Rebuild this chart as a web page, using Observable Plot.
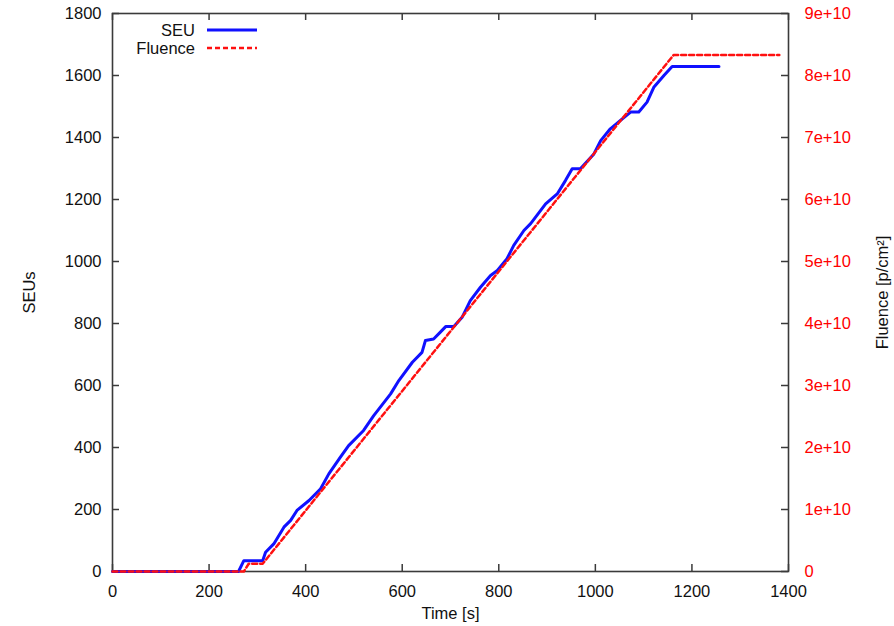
<!DOCTYPE html>
<html><head><meta charset="utf-8">
<script src="https://cdn.jsdelivr.net/npm/d3@7"></script>
<script src="https://cdn.jsdelivr.net/npm/@observablehq/plot@0.6"></script>
<style>
body{margin:0;background:#fff;}
#wrap{position:relative;width:894px;height:626px;}
#legend{position:absolute;left:0;top:0;}
svg{font-family:"Liberation Sans",Arial,sans-serif;}
</style>
</head><body><div id="wrap"></div>
<script>
// SEU counts vs time [s]
const seuTime  = [0, 261, 272, 311, 317, 334, 355, 369, 382, 407, 431, 448, 472, 489, 520, 541, 576, 593, 621, 641, 648, 665, 679, 690, 707, 724, 741, 762, 783, 797, 817, 831, 852, 866, 897, 921, 938, 952, 969, 997, 1011, 1031, 1052, 1073, 1090, 1107, 1121, 1142, 1159, 1256];
const seuCount = [0, 0, 35, 35, 62, 89, 143, 165, 197, 229, 267, 315, 369, 406, 455, 503, 573, 616, 675, 707, 745, 750, 772, 790, 790, 820, 874, 917, 955, 971, 1009, 1052, 1100, 1122, 1186, 1218, 1261, 1299, 1299, 1347, 1390, 1428, 1455, 1482, 1482, 1514, 1562, 1600, 1629, 1629];
// Fluence [p/cm^2] vs time [s]
const fluTime  = [0, 272, 282, 311, 1162, 1381];
const fluValue = [0, 0, 1.25e9, 1.25e9, 8.33e10, 8.33e10];

const xTicks = [0, 200, 400, 600, 800, 1000, 1200, 1400];
const yTicks = [0, 200, 400, 600, 800, 1000, 1200, 1400, 1600, 1800];
const fluTicks = [0, 1e10, 2e10, 3e10, 4e10, 5e10, 6e10, 7e10, 8e10, 9e10];
const fluTickLabels = ["0", "1e+10", "2e+10", "3e+10", "4e+10", "5e+10", "6e+10", "7e+10", "8e+10", "9e+10"];
const legendLabels = ["SEU", "Fluence"];

const FLU_PER_Y = 9e10 / 1800; // right axis maps onto left axis range
const seu = seuTime.map((t, i) => ({t, v: seuCount[i]}));
const flu = fluTime.map((t, i) => ({t, f: fluValue[i]}));
const ink = "#3a3a3a";
const txt = "#111";
const FS = 16.5;

const plot = Plot.plot({
  width: 894, height: 626,
  marginLeft: 112, marginRight: 106, marginTop: 13, marginBottom: 55,
  style: {fontFamily: '"Liberation Sans", Arial, sans-serif', fontSize: FS + "px", background: "#fff", color: txt},
  x: {domain: [0, 1400]},
  y: {domain: [0, 1800]},
  marks: [
    Plot.axisX(xTicks, {anchor: "bottom", tickSize: 0, tickPadding: 14, fontSize: FS, label: null, fill: txt, tickFormat: d => String(d)}),
    Plot.axisY(yTicks, {anchor: "left", tickSize: 0, tickPadding: 11, fontSize: FS, label: null, fill: txt, tickFormat: d => String(d)}),
    Plot.axisY(fluTicks.map(f => f / FLU_PER_Y), {
      anchor: "right", tickSize: 0, tickPadding: 16, fontSize: FS, label: null, fill: "#ff0000",
      tickFormat: d => fluTickLabels[fluTicks.indexOf(Math.round(d * FLU_PER_Y))]
    }),
    // inward tick marks on all four sides
    Plot.ruleX(xTicks, {y1: 0, y2: 0, insetTop: -7, stroke: ink, strokeWidth: 1.5}),
    Plot.ruleX(xTicks, {y1: 1800, y2: 1800, insetBottom: -7, stroke: ink, strokeWidth: 1.5}),
    Plot.ruleY(yTicks, {x1: 0, x2: 0, insetRight: -7, stroke: ink, strokeWidth: 1.5}),
    Plot.ruleY(fluTicks.map(f => f / FLU_PER_Y), {x1: 1400, x2: 1400, insetLeft: -7, stroke: ink, strokeWidth: 1.5}),
    Plot.frame({stroke: ink, strokeWidth: 1.6}),
    Plot.line(seu, {x: "t", y: "v", stroke: "#1010ff", strokeWidth: 3, strokeLinejoin: "round"}),
    Plot.line(flu, {x: "t", y: d => d.f / FLU_PER_Y, stroke: "#ff1010", strokeWidth: 2.5, strokeDasharray: "5,3"}),
    Plot.text(["SEUs"], {frameAnchor: "left", dx: -83, rotate: -90, textAnchor: "middle", lineAnchor: "middle", fontSize: FS, fill: txt}),
    Plot.text(["Fluence [p/cm²]"], {frameAnchor: "right", dx: 94, rotate: -90, textAnchor: "middle", lineAnchor: "middle", fontSize: FS, fill: txt}),
    Plot.text(["Time [s]"], {frameAnchor: "bottom", dy: 42, textAnchor: "middle", lineAnchor: "middle", fontSize: FS, fill: txt})
  ]
});
const wrap = document.getElementById("wrap");
wrap.appendChild(plot);

// legend overlay (gnuplot style, top-left inside the frame)
const leg = d3.select(wrap).append("svg").attr("id", "legend").attr("width", 300).attr("height", 70);
const styles = [
  {stroke: "#1010ff", width: 3, dash: null},
  {stroke: "#ff1010", width: 2.5, dash: "5,3"}
];
legendLabels.forEach((lab, i) => {
  const y = 30 + i * 18;
  leg.append("text").attr("x", 195).attr("y", y).attr("dy", "0.35em").attr("text-anchor", "end")
    .attr("font-size", FS).attr("fill", txt).text(lab);
  leg.append("line").attr("x1", 207).attr("x2", 257).attr("y1", y).attr("y2", y)
    .attr("stroke", styles[i].stroke).attr("stroke-width", styles[i].width)
    .attr("stroke-dasharray", styles[i].dash);
});
</script>
</body></html>
